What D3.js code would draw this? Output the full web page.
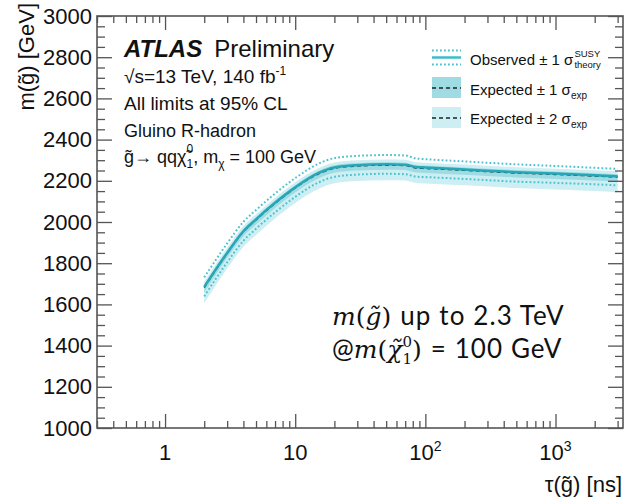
<!DOCTYPE html>
<html lang="en">
<script src="https://d3js.org/d3.v7.min.js"></script>
<style>
  body { margin: 0; background: #fff; }
  text { fill: #111; white-space: pre; }
</style>
<body>
<svg width="626" height="501"></svg>
<script>
    // lifetime points (ns) and mass limits (GeV)
    const tau      = [2, 3, 4, 5, 7, 10, 15, 20, 30, 50, 70, 85, 100, 200, 500, 1000, 2000, 3000];
    const obs      = [1685, 1850, 1955, 2013, 2093, 2168, 2237, 2265, 2276, 2280, 2278, 2267, 2265, 2255, 2242, 2235, 2227, 2222];
    const obsUp    = [1731, 1896, 2001, 2058, 2138, 2213, 2282, 2310, 2321, 2325, 2323, 2308, 2305, 2294, 2280, 2272, 2263, 2258];
    const obsDown  = [1639, 1804, 1909, 1967, 2047, 2122, 2191, 2219, 2230, 2234, 2232, 2220, 2218, 2209, 2196, 2190, 2183, 2178];
    const exp      = [1682, 1848, 1953, 2010, 2090, 2165, 2233, 2261, 2272, 2276, 2274, 2262, 2260, 2251, 2238, 2231, 2223, 2218];
    const exp1Up   = [1697, 1862, 1967, 2024, 2104, 2179, 2247, 2275, 2286, 2290, 2288, 2276, 2274, 2265, 2252, 2245, 2237, 2232];
    const exp1Down = [1657, 1826, 1931, 1988, 2068, 2143, 2211, 2239, 2250, 2254, 2252, 2240, 2238, 2229, 2216, 2209, 2201, 2196];
    const exp2Up   = [1711, 1876, 1981, 2038, 2118, 2193, 2261, 2289, 2300, 2304, 2302, 2290, 2288, 2279, 2266, 2259, 2251, 2246];
    const exp2Down = [1605, 1774, 1880, 1937, 2017, 2092, 2160, 2188, 2199, 2203, 2201, 2189, 2187, 2178, 2165, 2158, 2150, 2145];

    const yTicks = [1000, 1200, 1400, 1600, 1800, 2000, 2200, 2400, 2600, 2800, 3000];
    const xMajor = [1, 10, 100, 1000];
    const xLabels = [["1", ""], ["10", ""], ["10", "2"], ["10", "3"]];

    const fam = "'Liberation Sans', Arial, sans-serif";
    const pLeft = 97, pRight = 623, pTop = 16, pBottom = 428;

    var x = d3.scaleLog().domain([0.3, 3300]).range([pLeft, pRight]);
    var y = d3.scaleLinear().domain([1000, 3000]).range([pBottom, pTop]);

    var svg = d3.select("svg");

    // minor ticks: 2..9 per decade, and every 50 GeV
    var xMinor = [];
    [0.1, 1, 10, 100, 1000].forEach(function (d) {
        for (var k = 2; k <= 9; k++) {
            var v = d * k;
            if (v >= 0.3 && v <= 3300 && xMajor.indexOf(v) < 0) xMinor.push(v);
        }
    });
    var yMinor = d3.range(1050, 3000, 50).filter(function (v) { return v % 200 != 0; });

    // ---- bands and lines
    var area = function (lo, hi) {
        return d3.area()
            .x(function (d, i) { return x(tau[i]); })
            .y0(function (d, i) { return y(lo[i]); })
            .y1(function (d, i) { return y(hi[i]); })
            .curve(d3.curveMonotoneX)(tau);
    };
    var line = function (v) {
        return d3.line()
            .x(function (d, i) { return x(tau[i]); })
            .y(function (d, i) { return y(v[i]); })
            .curve(d3.curveMonotoneX)(tau);
    };

    var plot = svg.append("g");
    plot.append("path").attr("d", area(exp2Down, exp2Up)).attr("fill", "#cdeef2");
    plot.append("path").attr("d", area(exp1Down, exp1Up)).attr("fill", "#9fdbe3");
    plot.append("path").attr("d", line(exp)).attr("fill", "none")
        .attr("stroke", "#1d3c40").attr("stroke-width", 1.5).attr("stroke-dasharray", "4,3");
    plot.append("path").attr("d", line(obs)).attr("fill", "none")
        .attr("stroke", "#27a7b5").attr("stroke-width", 2.5);
    [obsUp, obsDown].forEach(function (v) {
        plot.append("path").attr("d", line(v)).attr("fill", "none")
            .attr("stroke", "#4cc2d0").attr("stroke-width", 2).attr("stroke-dasharray", "1.8,2.2");
    });

    // ---- axes (ticks pointing inward)
    function styleAxis(g) {
        g.select(".domain").remove();
        g.selectAll("line").attr("stroke", "#555").attr("stroke-width", 1.3);
        g.selectAll("text").style("font-family", fam).style("font-size", "22px").attr("fill", "#111");
    }
    svg.append("g").attr("transform", "translate(" + pLeft + ",0)")
        .call(d3.axisLeft(y).tickValues(yTicks).tickSize(-15).tickPadding(5).tickFormat(d3.format("d")))
        .call(styleAxis);
    svg.append("g").attr("transform", "translate(" + pLeft + ",0)")
        .call(d3.axisLeft(y).tickValues(yMinor).tickSize(-8).tickFormat(""))
        .call(styleAxis);
    svg.append("g").attr("transform", "translate(" + pRight + ",0)")
        .call(d3.axisRight(y).tickValues(yTicks).tickSize(-15).tickFormat(""))
        .call(styleAxis);
    svg.append("g").attr("transform", "translate(" + pRight + ",0)")
        .call(d3.axisRight(y).tickValues(yMinor).tickSize(-8).tickFormat(""))
        .call(styleAxis);
    svg.append("g").attr("transform", "translate(0," + pBottom + ")")
        .call(d3.axisBottom(x).tickValues(xMajor).tickSize(-14).tickFormat(""))
        .call(styleAxis);
    svg.append("g").attr("transform", "translate(0," + pBottom + ")")
        .call(d3.axisBottom(x).tickValues(xMinor).tickSize(-7).tickFormat(""))
        .call(styleAxis);
    svg.append("g").attr("transform", "translate(0," + pTop + ")")
        .call(d3.axisTop(x).tickValues(xMajor).tickSize(-14).tickFormat(""))
        .call(styleAxis);
    svg.append("g").attr("transform", "translate(0," + pTop + ")")
        .call(d3.axisTop(x).tickValues(xMinor).tickSize(-7).tickFormat(""))
        .call(styleAxis);

    svg.append("rect").attr("x", pLeft).attr("y", pTop)
        .attr("width", pRight - pLeft).attr("height", pBottom - pTop)
        .attr("fill", "none").attr("stroke", "#555").attr("stroke-width", 1.6);

    // x tick labels with exponents
    xMajor.forEach(function (v, i) {
        var t = svg.append("text").attr("x", x(v)).attr("y", 460)
            .attr("text-anchor", "middle")
            .style("font-family", fam).style("font-size", "22px");
        t.append("tspan").text(xLabels[i][0]);
        if (xLabels[i][1]) t.append("tspan").attr("dy", -9).style("font-size", "14px").text(xLabels[i][1]);
    });

    // axis titles
    svg.append("text").attr("transform", "translate(34,3) rotate(-90)")
        .attr("text-anchor", "end")
        .style("font-family", fam).style("font-size", "22px")
        .text("m(g\u0303) [GeV]");
    svg.append("text").attr("x", 622).attr("y", 492).attr("text-anchor", "end")
        .style("font-family", fam).style("font-size", "22px")
        .text("\u03c4(g\u0303) [ns]");

    // helper: lay out runs as tspans of one text; stacked runs share the start x
    function runs(txt, x0, y0, parts) {
        var cx = x0, px = x0;
        parts.forEach(function (p) {
            var sx = (p.stack ? px : cx) + (p.gap || 0);
            var t = txt.append("tspan").attr("x", sx).attr("y", y0 + (p.dy || 0)).text(p.t)
                .style("font-family", p.ff || fam).style("font-size", p.fs + "px")
                .style("font-style", p.it ? "italic" : "normal")
                .style("font-weight", p.bold ? "bold" : "normal")
                .style("letter-spacing", (p.ls || 0) + "px");
            var w = t.node().getComputedTextLength();
            if (p.stack) cx = Math.max(cx, sx + w);
            else { px = sx; cx = sx + w; }
        });
        return cx;
    }

    // ATLAS label block
    runs(svg.append("text"), 124, 57, [{t: "ATLAS", fs: 24, it: true, bold: true}, {t: "Preliminary", fs: 24, gap: 12}]);
    runs(svg.append("text"), 124, 83, [{t: "\u221as=13 TeV, 140 fb", fs: 19}, {t: "-1", fs: 12, dy: -8}]);
    runs(svg.append("text"), 124, 110, [{t: "All limits at 95% CL", fs: 19}]);
    runs(svg.append("text"), 124, 137, [{t: "Gluino R-hadron", fs: 18}]);
    runs(svg.append("text"), 124, 163, [
        {t: "g\u0303\u2192 qq\u03c7\u0303", fs: 18},
        {t: "0", fs: 12, dy: -10}, {t: "1", fs: 12, dy: 5, stack: true},
        {t: ", m", fs: 18}, {t: "\u03c7", fs: 12, dy: 5}, {t: " = 100 GeV", fs: 18}
    ]);

    // legend
    var leg = svg.append("g");
    leg.append("line").attr("x1", 432).attr("x2", 461).attr("y1", 57.5).attr("y2", 57.5)
        .attr("stroke", "#3fbccb").attr("stroke-width", 2.5);
    [50.5, 64.5].forEach(function (yy) {
        leg.append("line").attr("x1", 432).attr("x2", 461).attr("y1", yy).attr("y2", yy)
            .attr("stroke", "#4cc2d0").attr("stroke-width", 2).attr("stroke-dasharray", "1.8,2.2");
    });
    [[77, "#9fdbe3"], [107, "#cdeef2"]].forEach(function (b) {
        leg.append("rect").attr("x", 432).attr("y", b[0]).attr("width", 29).attr("height", 21).attr("fill", b[1]);
        leg.append("line").attr("x1", 432).attr("x2", 461).attr("y1", b[0] + 11).attr("y2", b[0] + 11)
            .attr("stroke", "#222").attr("stroke-width", 1.5).attr("stroke-dasharray", "4,3");
    });
    runs(leg.append("text"), 470, 65, [{t: "Observed \u00b1 1 \u03c3", fs: 15},
        {t: "SUSY", fs: 9.5, dy: -8, gap: 1}, {t: "theory", fs: 9.5, dy: 3, stack: true}]);
    runs(leg.append("text"), 470, 95, [{t: "Expected \u00b1 1 \u03c3", fs: 15}, {t: "exp", fs: 10, dy: 4}]);
    runs(leg.append("text"), 470, 124, [{t: "Expected \u00b1 2 \u03c3", fs: 15}, {t: "exp", fs: 10, dy: 4}]);

    // annotation, both lines in one text
    var serif = "'DejaVu Serif', 'Liberation Serif', serif";
    var sans = "Lato, 'Open Sans', sans-serif";
    var note = svg.append("text");
    runs(note, 332, 325, [
        {t: "m", fs: 25, ff: serif, it: true}, {t: "(", fs: 25, ff: serif},
        {t: "g\u0303", fs: 25, ff: serif, it: true}, {t: ")", fs: 25, ff: serif},
        {t: "up to 2.3 TeV", fs: 26, ff: sans, gap: 9, ls: 1.1}
    ]);
    runs(note, 332, 358, [
        {t: "@", fs: 26, ff: sans},
        {t: "m", fs: 25, ff: serif, it: true}, {t: "(", fs: 25, ff: serif},
        {t: "\u03c7\u0303", fs: 25, ff: serif, it: true},
        {t: "0", fs: 15, ff: serif, dy: -11}, {t: "1", fs: 15, ff: serif, dy: 6, stack: true},
        {t: ")", fs: 25, ff: serif},
        {t: "= 100 GeV", fs: 26, ff: sans, gap: 9, ls: 1.1}
    ]);
</script>
</body>
</html>
